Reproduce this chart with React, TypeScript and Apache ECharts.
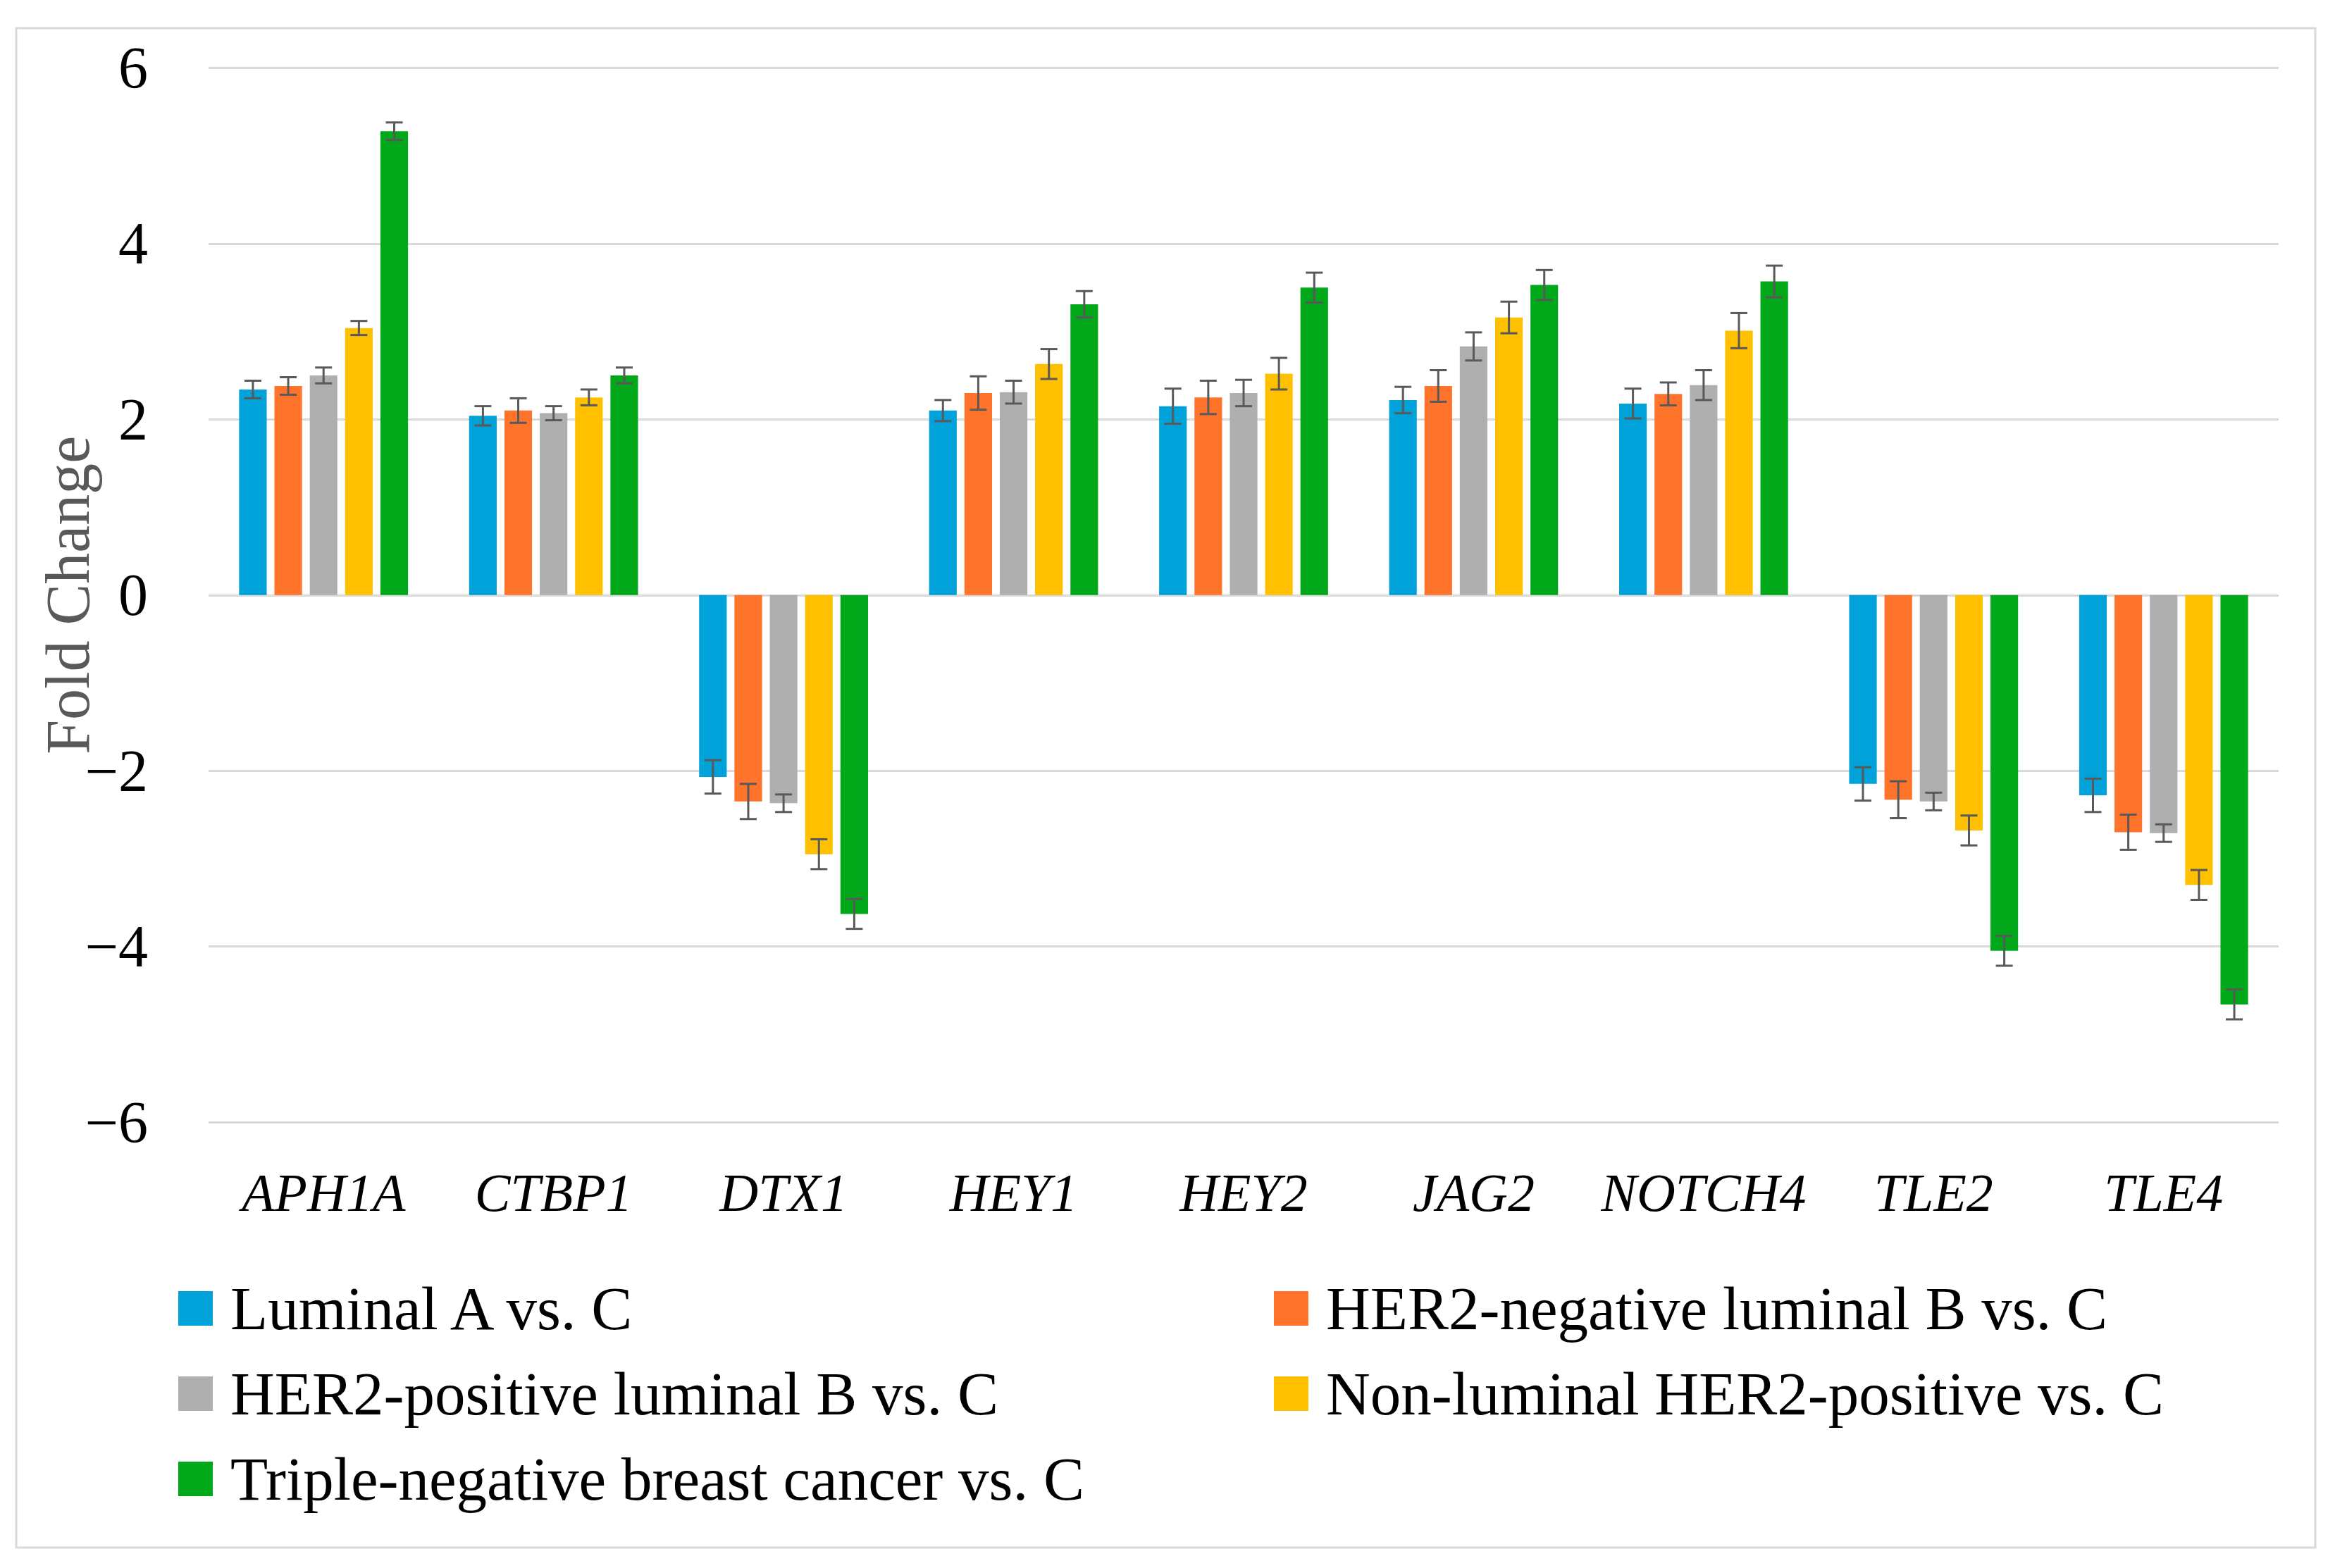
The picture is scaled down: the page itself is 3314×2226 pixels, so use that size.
import React, { useEffect, useRef } from "react";
import * as echarts from "echarts";

const categories = ["APH1A", "CTBP1", "DTX1", "HEY1", "HEY2", "JAG2", "NOTCH4", "TLE2", "TLE4"];
const seriesNames = [
  "Luminal A vs. C",
  "HER2-negative luminal B vs. C",
  "HER2-positive luminal B vs. C",
  "Non-luminal HER2-positive vs. C",
  "Triple-negative breast cancer vs. C",
];
const colors = ["#00A2D9", "#FF732A", "#AFAFAF", "#FFC000", "#00A81A"];

const luminalA = [2.34, 2.04, -2.07, 2.1, 2.15, 2.22, 2.18, -2.15, -2.28];
const her2NegLumB = [2.38, 2.1, -2.35, 2.3, 2.25, 2.38, 2.29, -2.33, -2.7];
const her2PosLumB = [2.5, 2.07, -2.37, 2.31, 2.3, 2.83, 2.39, -2.35, -2.71];
const nonLumHer2 = [3.04, 2.25, -2.95, 2.63, 2.52, 3.16, 3.01, -2.68, -3.3];
const tnbc = [5.28, 2.5, -3.63, 3.31, 3.5, 3.53, 3.57, -4.05, -4.66];

const errLuminalA = [0.1, 0.11, 0.19, 0.12, 0.2, 0.15, 0.17, 0.19, 0.19];
const errHer2NegLumB = [0.1, 0.14, 0.2, 0.19, 0.19, 0.18, 0.13, 0.21, 0.2];
const errHer2PosLumB = [0.09, 0.08, 0.1, 0.13, 0.15, 0.16, 0.17, 0.1, 0.1];
const errNonLumHer2 = [0.08, 0.09, 0.17, 0.17, 0.18, 0.18, 0.2, 0.17, 0.17];
const errTnbc = [0.1, 0.09, 0.17, 0.15, 0.17, 0.17, 0.18, 0.17, 0.17];

const yTicks = [-6, -4, -2, 0, 2, 4, 6];

const values = [luminalA, her2NegLumB, her2PosLumB, nonLumHer2, tnbc];
const errors = [errLuminalA, errHer2NegLumB, errHer2PosLumB, errNonLumHer2, errTnbc];

const BAR_W = 0.12;
const BAR_GAP = 0.28;
const FONT = "'Liberation Serif', 'Times New Roman', serif";

export default function App() {
  const ref = useRef<HTMLDivElement>(null);
  useEffect(() => {
    if (!ref.current) return;
    const chart = echarts.init(ref.current, null, { renderer: "svg" });
    const errData: number[][] = [];
    values.forEach((arr, s) =>
      arr.forEach((v, c) => errData.push([c, s, v, errors[s][c]]))
    );
    const barSeries = seriesNames.map((name, i) => ({
      name,
      type: "bar",
      data: values[i],
      barWidth: BAR_W * 100 + "%",
      barGap: BAR_GAP * 100 + "%",
      itemStyle: { color: colors[i] },
      z: 2,
    }));
    const legendText = {
      fontFamily: FONT,
      fontSize: 87,
      color: "#000",
      lineHeight: 80,
      padding: [0, 0, 0, 20],
    };
    const legendBase = {
      orient: "vertical",
      top: 1814,
      padding: 0,
      itemGap: 34,
      itemWidth: 49,
      itemHeight: 49,
      icon: "rect",
      textStyle: legendText,
    };
    chart.setOption({
      animation: false,
      backgroundColor: "#fff",
      graphic: [
        {
          type: "rect",
          shape: { x: 23, y: 40, width: 3263, height: 2157 },
          style: { fill: "none", stroke: "#d9d9d9", lineWidth: 3 },
          silent: true,
        },
      ],
      grid: { left: 296, right: 80, top: 96.5, bottom: 633 },
      legend: [
        { ...legendBase, data: [seriesNames[0], seriesNames[2], seriesNames[4]], left: 253 },
        { ...legendBase, data: [seriesNames[1], seriesNames[3]], left: 1808 },
      ],
      xAxis: {
        type: "category",
        data: categories,
        axisLine: { show: false },
        axisTick: { show: false },
        axisLabel: {
          interval: 0,
          fontFamily: FONT,
          fontStyle: "italic",
          fontSize: 76,
          color: "#000",
          margin: 62,
        },
      },
      yAxis: {
        type: "value",
        min: -6,
        max: 6,
        interval: 2,
        name: "Fold Change",
        nameLocation: "middle",
        nameRotate: 90,
        nameGap: 156,
        nameMoveOverlap: false,
        nameTextStyle: { fontFamily: FONT, fontSize: 88, color: "#595959" },
        axisLine: { show: false },
        axisTick: { show: false },
        splitLine: { lineStyle: { color: "#d9d9d9", width: 3 } },
        axisLabel: {
          fontFamily: FONT,
          fontSize: 84,
          color: "#000",
          margin: 86,
          customValues: yTicks,
          formatter: (v: number) => (v < 0 ? "\u2212" + Math.abs(v) : String(v)),
        },
      },
      series: [
        ...barSeries,
        {
          type: "custom",
          name: "errors",
          data: errData,
          z: 5,
          renderItem: (params: any, api: any) => {
            const c = api.value(0);
            const s = api.value(1);
            const v = api.value(2);
            const e = api.value(3);
            const band = api.size([1, 0])[0];
            const bw = band * BAR_W;
            const gap = bw * BAR_GAP;
            const groupW = 5 * bw + 4 * gap;
            const center = api.coord([c, v]);
            const x = center[0] - groupW / 2 + bw / 2 + s * (bw + gap);
            const yt = api.coord([c, v + e])[1];
            const yb = api.coord([c, v - e])[1];
            const cap = 12;
            const st = { stroke: "#595959", lineWidth: 3 };
            return {
              type: "group",
              children: [
                { type: "line", shape: { x1: x, y1: yt, x2: x, y2: yb }, style: st },
                { type: "line", shape: { x1: x - cap, y1: yt, x2: x + cap, y2: yt }, style: st },
                { type: "line", shape: { x1: x - cap, y1: yb, x2: x + cap, y2: yb }, style: st },
              ],
            };
          },
        },
      ],
    });
    return () => chart.dispose();
  }, []);
  return (
    <div
      ref={ref}
      style={{ position: "fixed", left: 0, top: 0, width: 3314, height: 2226 }}
    />
  );
}
